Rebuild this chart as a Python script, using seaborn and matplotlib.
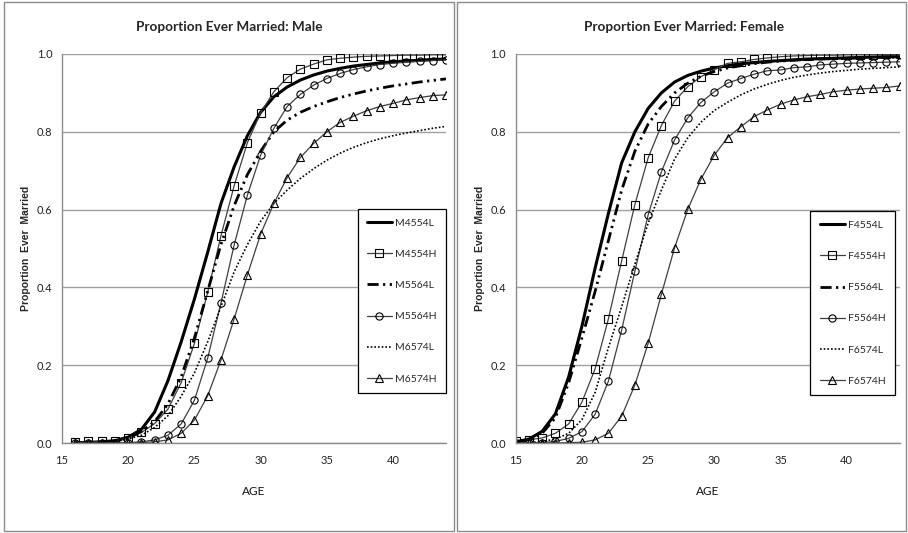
import matplotlib
matplotlib.use("Agg")
import matplotlib.pyplot as plt
from matplotlib.patches import Rectangle
import seaborn as sns
import numpy as np
import pandas as pd

# ---------------- data ----------------
male_ages = list(range(16, 45))
female_ages = list(range(15, 45))

M4554L = [0.000, 0.001, 0.003, 0.006, 0.015, 0.035, 0.080, 0.160, 0.260, 0.370, 0.490,
          0.615, 0.710, 0.790, 0.850, 0.890, 0.915, 0.933, 0.946, 0.956, 0.963, 0.969,
          0.973, 0.977, 0.980, 0.982, 0.984, 0.986, 0.987]
M4554H = [0.003, 0.004, 0.005, 0.006, 0.012, 0.027, 0.050, 0.087, 0.155, 0.256, 0.387,
          0.532, 0.661, 0.772, 0.849, 0.903, 0.939, 0.961, 0.974, 0.985, 0.989, 0.992,
          0.994, 0.995, 0.996, 0.997, 0.997, 0.998, 0.998]
M5564L = [0.000, 0.001, 0.002, 0.005, 0.012, 0.030, 0.055, 0.100, 0.170, 0.270, 0.390,
          0.510, 0.610, 0.690, 0.750, 0.800, 0.830, 0.850, 0.865, 0.877, 0.888, 0.897,
          0.905, 0.912, 0.918, 0.923, 0.928, 0.932, 0.936]
M5564H = [0.000, 0.000, 0.000, 0.000, 0.001, 0.003, 0.008, 0.020, 0.049, 0.110, 0.218,
          0.359, 0.509, 0.637, 0.740, 0.809, 0.865, 0.896, 0.920, 0.937, 0.950, 0.960,
          0.967, 0.973, 0.976, 0.979, 0.981, 0.983, 0.985]
M6574L = [0.000, 0.001, 0.002, 0.005, 0.010, 0.020, 0.040, 0.070, 0.120, 0.180, 0.260,
          0.350, 0.440, 0.510, 0.570, 0.616, 0.650, 0.680, 0.705, 0.727, 0.745, 0.760,
          0.772, 0.782, 0.790, 0.797, 0.803, 0.809, 0.814]
M6574H = [0.000, 0.000, 0.000, 0.000, 0.000, 0.001, 0.003, 0.008, 0.025, 0.059, 0.121,
          0.213, 0.319, 0.432, 0.537, 0.616, 0.682, 0.734, 0.770, 0.800, 0.824, 0.840,
          0.854, 0.865, 0.873, 0.882, 0.888, 0.893, 0.895]

F4554L = [0.003, 0.010, 0.030, 0.075, 0.170, 0.300, 0.450, 0.590, 0.720, 0.800, 0.860,
          0.900, 0.928, 0.945, 0.956, 0.964, 0.970, 0.975, 0.978, 0.981, 0.983, 0.985,
          0.987, 0.988, 0.989, 0.990, 0.991, 0.992, 0.993, 0.993]
F4554H = [0.004, 0.008, 0.013, 0.025, 0.049, 0.105, 0.191, 0.319, 0.468, 0.613, 0.733,
          0.816, 0.879, 0.916, 0.942, 0.960, 0.976, 0.980, 0.986, 0.990, 0.993, 0.995,
          0.996, 0.997, 0.997, 0.998, 0.998, 0.998, 0.999, 0.999]
F5564L = [0.002, 0.008, 0.025, 0.065, 0.155, 0.270, 0.390, 0.520, 0.650, 0.750, 0.820,
          0.865, 0.900, 0.925, 0.943, 0.955, 0.964, 0.970, 0.975, 0.979, 0.982, 0.984,
          0.986, 0.987, 0.988, 0.989, 0.990, 0.991, 0.992, 0.992]
F5564H = [0.000, 0.000, 0.001, 0.004, 0.012, 0.029, 0.074, 0.159, 0.290, 0.442, 0.586,
          0.697, 0.779, 0.836, 0.876, 0.903, 0.925, 0.937, 0.948, 0.957, 0.959, 0.965,
          0.967, 0.972, 0.974, 0.976, 0.977, 0.978, 0.979, 0.980]
F6574L = [0.000, 0.001, 0.004, 0.010, 0.025, 0.060, 0.130, 0.245, 0.350, 0.460, 0.565,
          0.650, 0.730, 0.785, 0.825, 0.855, 0.876, 0.895, 0.910, 0.922, 0.932, 0.940,
          0.946, 0.951, 0.955, 0.958, 0.961, 0.963, 0.965, 0.967]
F6574H = [0.000, 0.000, 0.000, 0.000, 0.001, 0.002, 0.008, 0.025, 0.069, 0.149, 0.256,
          0.382, 0.502, 0.601, 0.679, 0.740, 0.785, 0.813, 0.839, 0.856, 0.871, 0.882,
          0.890, 0.896, 0.903, 0.907, 0.910, 0.912, 0.914, 0.918]

male_series = {"M4554L": M4554L, "M4554H": M4554H, "M5564L": M5564L,
               "M5564H": M5564H, "M6574L": M6574L, "M6574H": M6574H}
female_series = {"F4554L": F4554L, "F4554H": F4554H, "F5564L": F5564L,
                 "F5564H": F5564H, "F6574L": F6574L, "F6574H": F6574H}

y_ticks = [0.0, 0.2, 0.4, 0.6, 0.8, 1.0]
x_ticks = [15, 20, 25, 30, 35, 40]

# ---------------- style ----------------
sns.set_style("white")
plt.rcParams['font.family'] = ['Lato', 'DejaVu Sans']

styles = [
    dict(color="black", lw=2.2, linestyle="-", marker=None),
    dict(color="#404040", lw=0.9, linestyle="-", marker="s", markersize=5.2),
    dict(color="black", lw=2.0, linestyle=(0, (4, 1.6, 0.8, 1.6, 0.8, 1.6)), marker=None),
    dict(color="#404040", lw=0.9, linestyle="-", marker="o", markersize=5.2),
    dict(color="black", lw=1.2, linestyle=(0, (1, 1.2)), marker=None),
    dict(color="#404040", lw=0.9, linestyle="-", marker="^", markersize=5.5),
]

W, H = 908, 533
fig = plt.figure(figsize=(W / 100, H / 100), dpi=100)

# panel borders
for (x0, x1) in [(4, 454), (457, 906)]:
    fig.patches.append(Rectangle((x0 / W, 2 / H), (x1 - x0) / W, (531 - 2) / H,
                                 transform=fig.transFigure, fill=False,
                                 edgecolor="#8c8c8c", lw=1.0))

panels = [
    dict(left=62, series=male_series, ages=male_ages,
         title="Proportion Ever Married: Male", leg=(1.0, 0.1285), cx=229),
    dict(left=515.7, series=female_series, ages=female_ages,
         title="Proportion Ever Married: Female", leg=(0.9877, 0.123), cx=684),
]

for p in panels:
    ax = fig.add_axes([p["left"] / W, (H - 443) / H, 384 / W, 389 / H])
    for (name, vals), st in zip(p["series"].items(), styles):
        df = pd.DataFrame({"AGE": p["ages"], "value": vals})
        kw = dict(color=st["color"], lw=st["lw"], linestyle=st["linestyle"], label=name)
        if st["marker"]:
            kw.update(marker=st["marker"], markersize=st["markersize"],
                      markerfacecolor="none", markeredgecolor="black",
                      markeredgewidth=0.8)
        sns.lineplot(data=df, x="AGE", y="value", ax=ax, **kw)

    ax.set_xlim(15, 44)
    ax.set_ylim(0, 1.0)
    ax.set_xticks(x_ticks)
    ax.set_yticks(y_ticks)
    ax.set_yticklabels([f"{t:.1f}" for t in y_ticks])
    ax.grid(axis="y", color="#a0a0a0", lw=1.0)
    ax.grid(axis="x", visible=False)
    ax.set_axisbelow(True)
    for s in ["top", "right"]:
        ax.spines[s].set_visible(False)
    for s in ["left", "bottom"]:
        ax.spines[s].set_color("#8c8c8c")
        ax.spines[s].set_linewidth(1.0)
    ax.tick_params(axis="both", which="major", direction="out", length=4,
                   color="#8c8c8c", labelsize=8, labelcolor="#222222", pad=3)
    ax.tick_params(axis="x", pad=5)
    ax.set_xlabel("AGE", fontsize=8.5, labelpad=14, color="#111111")
    ax.set_ylabel("Proportion  Ever  Married", fontsize=7.5, fontweight="bold",
                  family=["Liberation Sans", "DejaVu Sans"], labelpad=4)
    fig.text(p["cx"] / W, 1 - 27 / H, p["title"], ha="center", va="center",
             fontsize=9.8, fontweight="bold")

    leg = ax.legend(loc="lower right", bbox_to_anchor=p["leg"], borderaxespad=0,
                    frameon=True, fancybox=False, edgecolor="black", framealpha=1,
                    fontsize=7.5, labelspacing=2.1, handlelength=2.4,
                    handletextpad=0.3, borderpad=0.9)
    leg.get_frame().set_linewidth(0.9)

fig.savefig("out.png", dpi=100)
